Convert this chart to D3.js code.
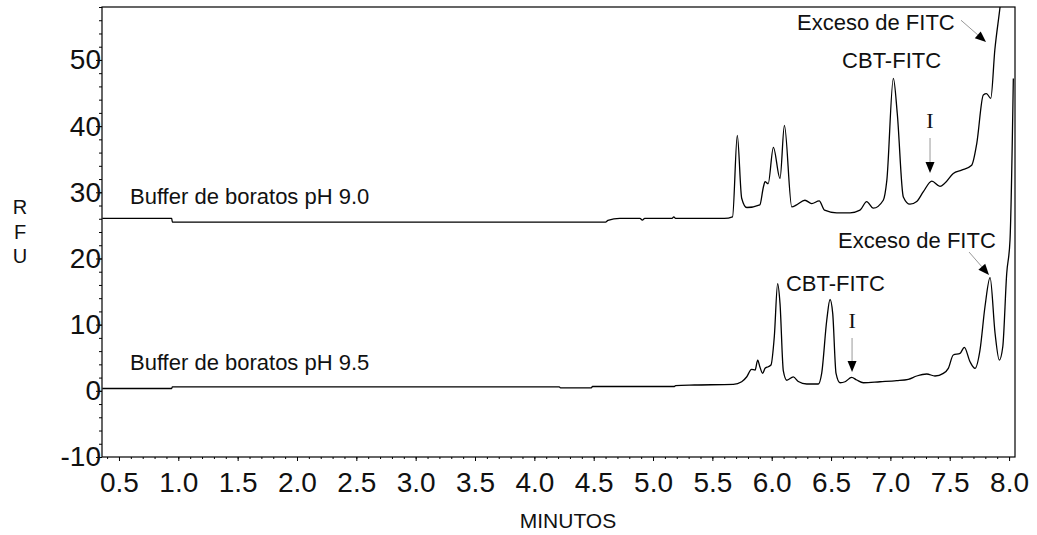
<!DOCTYPE html>
<html>
<head>
<meta charset="utf-8">
<script src="https://cdn.jsdelivr.net/npm/d3@7"></script>
<style>
  body { margin: 0; background: #fff; }
  svg { display: block; font-family: "Liberation Sans", Arial, sans-serif; }
</style>
</head>
<body>
<script>
// pH 9.0 trace (minutes, RFU)
const t90 = [0.36, 0.944, 0.95, 4.60, 4.62, 4.72, 4.89, 4.91, 4.93, 5.16, 5.175, 5.19, 5.60, 5.67, 5.71, 5.747, 5.79,
  5.90, 5.93, 5.944, 5.97, 6.014, 6.07, 6.107, 6.169, 6.21, 6.28, 6.337, 6.40, 6.445, 6.548, 6.66, 6.744, 6.80,
  6.856, 6.94, 6.97, 7.025, 7.058, 7.109, 7.165, 7.222, 7.278, 7.349, 7.418, 7.46, 7.53, 7.60, 7.685, 7.728,
  7.783, 7.81, 7.846, 7.88, 7.924, 7.96];
const v90 = [26.06, 26.06, 25.5, 25.5, 25.75, 26.05, 26.05, 25.8, 26.05, 26.05, 26.3, 26.05, 26.05, 26.3, 38.6, 29.1, 27.7,
  28.1, 30.8, 31.6, 31.3, 36.8, 32.1, 40.1, 27.8, 28.1, 28.8, 28.3, 28.7, 27.3, 26.9, 26.9, 27.3, 28.6,
  27.6, 28.8, 31.8, 47.2, 41.9, 29.3, 28.2, 28.6, 30.1, 31.7, 30.9, 31.4, 32.85, 33.35, 34.1, 37.4,
  44.7, 44.9, 44.2, 51.5, 58.0, 64];

// pH 9.5 trace (minutes, RFU)
const t95 = [0.36, 0.944, 0.95, 4.21, 4.22, 4.48, 4.49, 5.18, 5.19, 5.35, 5.677, 5.747, 5.79, 5.83, 5.86, 5.882, 5.90,
  5.924, 5.944, 5.971, 5.994, 6.022, 6.05, 6.07, 6.098, 6.127, 6.182, 6.224, 6.295, 6.393, 6.421, 6.464, 6.4915,
  6.514, 6.542, 6.576, 6.618, 6.674, 6.716, 6.772, 6.913, 7.053, 7.151, 7.222, 7.306, 7.376, 7.446, 7.488, 7.53,
  7.587, 7.623, 7.671, 7.713, 7.755, 7.797, 7.84, 7.882, 7.918, 7.947, 7.98, 8.008, 8.036];
const v95 = [0.35, 0.35, 0.6, 0.6, 0.45, 0.45, 0.65, 0.65, 0.8, 0.88, 0.98, 1.37, 2.13, 3.25, 3.14, 4.65, 3.64,
  2.64, 3.4, 3.64, 3.9, 8.2, 16.2, 13.2, 3.0, 1.6, 2.1, 1.4, 1.03, 1.03, 2.64, 10.7, 13.8,
  11.7, 2.64, 1.22, 1.37, 2.04, 1.63, 1.22, 1.37, 1.53, 1.74, 2.24, 2.54, 2.24, 2.64, 3.4, 5.41,
  5.66, 6.57, 4.4, 3.4, 6.16, 12.7, 17.1, 8.7, 4.65, 6.66, 17.7, 22.8, 47.2];

const xTickLabels = ["0.5", "1.0", "1.5", "2.0", "2.5", "3.0", "3.5", "4.0", "4.5", "5.0", "5.5", "6.0", "6.5", "7.0", "7.5", "8.0"];
const yTickLabels = ["-10", "0", "10", "20", "30", "40", "50"];

const width = 1037, height = 535;
const pLeft = 102, pRight = 1015, pTop = 7, pBottom = 457;

const svg = d3.select("body").append("svg")
  .attr("width", width)
  .attr("height", height);

const x = d3.scaleLinear().domain([0.357, 8.05]).range([pLeft, pRight]);
const y = d3.scaleLinear().domain([-10, 58]).range([pBottom, pTop]);

// minor ticks
const xMinor = d3.range(4, 81).map(d => d / 10);
const yMinor = d3.range(-10, 59, 2);

svg.append("g").attr("transform", `translate(0,${pBottom})`)
  .call(d3.axisBottom(x).tickValues(xMinor).tickSize(2).tickFormat(""))
  .call(g => g.select(".domain").remove());
svg.append("g").attr("transform", `translate(0,${pBottom})`)
  .call(d3.axisBottom(x).tickValues(xTickLabels.map(Number)).tickSize(4).tickPadding(11)
    .tickFormat((d, i) => xTickLabels[i]))
  .call(g => g.select(".domain").remove())
  .call(g => g.selectAll("text").attr("font-size", 28).attr("font-family", "Liberation Sans, Arial, sans-serif").attr("fill", "#111"));

svg.append("g").attr("transform", `translate(${pLeft},0)`)
  .call(d3.axisLeft(y).tickValues(yMinor).tickSize(3).tickFormat(""))
  .call(g => g.select(".domain").remove());
svg.append("g").attr("transform", `translate(${pLeft},0)`)
  .call(d3.axisLeft(y).tickValues(yTickLabels.map(Number)).tickSize(6).tickPadding(-5)
    .tickFormat((d, i) => yTickLabels[i]))
  .call(g => g.select(".domain").remove())
  .call(g => g.selectAll("text").attr("font-size", 28).attr("font-family", "Liberation Sans, Arial, sans-serif").attr("fill", "#111"));

// frame
svg.append("rect")
  .attr("x", pLeft).attr("y", pTop)
  .attr("width", pRight - pLeft).attr("height", pBottom - pTop)
  .attr("fill", "none").attr("stroke", "#000").attr("stroke-width", 1.2);

svg.append("clipPath").attr("id", "clip")
  .append("rect").attr("x", pLeft).attr("y", pTop).attr("width", pRight - pLeft).attr("height", pBottom - pTop);

const line = d3.line()
  .x(d => x(d[0]))
  .y(d => y(d[1]))
  .curve(d3.curveMonotoneX);

const s90 = t90.map((t, i) => [t, v90[i]]);
const s95 = t95.map((t, i) => [t, v95[i]]);

svg.append("g").attr("clip-path", "url(#clip)")
  .selectAll("path")
  .data([s90, s95])
  .enter()
  .append("path")
  .attr("d", line)
  .attr("fill", "none")
  .attr("stroke", "#000")
  .attr("stroke-width", 1.3)
  .attr("stroke-linejoin", "round");

// labels
const labels = [
  { t: 0.593, v: 28.2, text: "Buffer de boratos pH 9.0" },
  { t: 0.593, v: 3.14, text: "Buffer de boratos pH 9.5" },
  { t: 6.213, v: 54.5, text: "Exceso de FITC" },
  { t: 6.593, v: 48.76, text: "CBT-FITC" },
  { t: 6.559, v: 21.57, text: "Exceso de FITC" },
  { t: 6.12, v: 15.08, text: "CBT-FITC" }
];
svg.selectAll("text.lab")
  .data(labels)
  .enter()
  .append("text")
  .attr("class", "lab")
  .attr("x", d => x(d.t))
  .attr("y", d => y(d.v))
  .attr("font-size", 22)
  .attr("fill", "#111")
  .text(d => d.text);

const iLabels = [{ t: 7.334, v: 39.7 }, { t: 6.677, v: 9.49 }];
svg.selectAll("text.ilab")
  .data(iLabels)
  .enter()
  .append("text")
  .attr("class", "ilab")
  .attr("x", d => x(d.t))
  .attr("y", d => y(d.v))
  .attr("text-anchor", "middle")
  .attr("font-family", "Liberation Serif, Times New Roman, serif")
  .attr("font-size", 22)
  .attr("fill", "#111")
  .text("I");

// arrows
const arrows = [
  { t0: 7.595, v0: 56.0, t1: 7.806, v1: 52.7 },
  { t0: 7.334, v0: 38.2, t1: 7.334, v1: 32.9 },
  { t0: 7.663, v0: 20.97, t1: 7.831, v1: 17.5 },
  { t0: 6.677, v0: 7.98, t1: 6.677, v1: 2.84 }
];
arrows.forEach(a => {
  const x0 = x(a.t0), y0 = y(a.v0), x1 = x(a.t1), y1 = y(a.v1);
  const ang = Math.atan2(y1 - y0, x1 - x0);
  const len = 11, hw = 4.5;
  const bx = x1 - len * Math.cos(ang), by = y1 - len * Math.sin(ang);
  svg.append("line")
    .attr("x1", x0).attr("y1", y0).attr("x2", bx).attr("y2", by)
    .attr("stroke", "#999").attr("stroke-width", 1);
  const pts = [
    [x1, y1],
    [bx + hw * Math.sin(ang), by - hw * Math.cos(ang)],
    [bx - hw * Math.sin(ang), by + hw * Math.cos(ang)]
  ];
  svg.append("polygon")
    .attr("points", pts.map(p => p.join(",")).join(" "))
    .attr("fill", "#000");
});

// axis titles
svg.append("text")
  .attr("x", 568)
  .attr("y", 528)
  .attr("text-anchor", "middle")
  .attr("font-size", 21)
  .attr("fill", "#111")
  .text("MINUTOS");

svg.append("text")
  .attr("x", 20)
  .attr("y", 214)
  .attr("text-anchor", "middle")
  .attr("font-size", 20)
  .attr("fill", "#111")
  .selectAll("tspan")
  .data(["R", "F", "U"])
  .enter()
  .append("tspan")
  .attr("x", 20)
  .attr("dy", (d, i) => i === 0 ? 0 : 24.5)
  .text(d => d);
</script>
</body>
</html>
